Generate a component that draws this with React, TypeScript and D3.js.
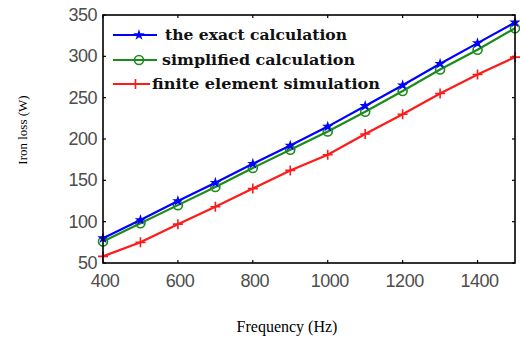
import { useRef, useEffect } from 'react';
import * as d3 from 'd3';

const freq = [400, 500, 600, 700, 800, 900, 1000, 1100, 1200, 1300, 1400, 1500];
const exact = [80, 102, 125, 147, 170, 192, 215, 240, 265, 291, 316, 341];
const simplified = [76, 98, 120, 142, 165, 187, 209, 233, 258, 284, 308, 334];
const fem = [58, 75, 97, 118, 140, 162, 181, 206, 230, 255, 278, 299];
const xTicks = [400, 600, 800, 1000, 1200, 1400];
const yTicks = [50, 100, 150, 200, 250, 300, 350];
const legendNames = ['the exact calculation', 'simplified calculation', 'finite element simulation'];

export default function App() {
  const ref = useRef<SVGSVGElement>(null);

  useEffect(() => {
    const W = 520, H = 338;
    const L = 103, R = 515, T = 15, B = 263;
    const svg = d3.select(ref.current!).attr('width', W).attr('height', H);
    svg.selectAll('*').remove();

    const x = d3.scaleLinear().domain([400, 1500]).range([L, R]);
    const y = d3.scaleLinear().domain([50, 350]).range([B, T]);

    // ticks (inward, all four sides)
    const tk = 3;
    const g = svg.append('g').attr('stroke', '#000').attr('stroke-width', 1.2);
    xTicks.forEach(t => {
      g.append('line').attr('x1', x(t)).attr('x2', x(t)).attr('y1', B).attr('y2', B - tk);
      g.append('line').attr('x1', x(t)).attr('x2', x(t)).attr('y1', T).attr('y2', T + tk);
    });
    yTicks.forEach(t => {
      g.append('line').attr('x1', L).attr('x2', L + tk).attr('y1', y(t)).attr('y2', y(t));
      g.append('line').attr('x1', R).attr('x2', R - tk).attr('y1', y(t)).attr('y2', y(t));
    });

    const lbl = svg.append('g')
      .attr('font-family', 'Liberation Sans, Arial, sans-serif')
      .attr('font-size', 18).attr('fill', '#4d4d4d');
    xTicks.forEach(t => {
      lbl.append('text').attr('x', x(t) + 2).attr('y', B + 24)
        .attr('text-anchor', 'middle').attr('letter-spacing', -0.5).text(t);
    });
    yTicks.forEach(t => {
      lbl.append('text').attr('x', L - 6).attr('y', y(t) + 6)
        .attr('text-anchor', 'end').attr('letter-spacing', -0.5).text(t);
    });

    const series = [
      { vals: exact, color: '#0000ff', mark: 'star' },
      { vals: simplified, color: '#1a8c1a', mark: 'circle' },
      { vals: fem, color: '#ff1a1a', mark: 'plus' },
    ];

    const drawMark = (sel: any, mark: string, color: string, cx: number, cy: number) => {
      if (mark === 'star') {
        sel.append('path').attr('transform', `translate(${cx},${cy})`)
          .attr('d', d3.symbol(d3.symbolStar, 40)()).attr('fill', color);
      } else if (mark === 'circle') {
        sel.append('circle').attr('cx', cx).attr('cy', cy).attr('r', 4.5)
          .attr('fill', 'none').attr('stroke', color).attr('stroke-width', 1.6);
      } else {
        sel.append('path')
          .attr('d', `M${cx - 5},${cy}H${cx + 5}M${cx},${cy - 5}V${cy + 5}`)
          .attr('stroke', color).attr('stroke-width', 1.6);
      }
    };

    const line = d3.line<number>().x((_, i) => x(freq[i])).y(d => y(d));
    // draw red first, then green, then blue on top
    [...series].reverse().forEach(s => {
      const sg = svg.append('g');
      sg.append('path').datum(s.vals).attr('fill', 'none')
        .attr('stroke', s.color).attr('stroke-width', 2.2).attr('d', line);
      s.vals.forEach((v, i) => drawMark(sg, s.mark, s.color, x(freq[i]), y(v)));
    });

    // frame
    svg.append('rect').attr('x', L).attr('y', T).attr('width', R - L).attr('height', B - T)
      .attr('fill', 'none').attr('stroke', '#000').attr('stroke-width', 1.6);

    // legend
    const lx = [[113, 157, 165], [113, 157, 162], [113, 150, 152]];
    const lw = [182, 193, 228];
    const ly = [35, 60, 84];
    series.forEach((s, i) => {
      const [a, b, tx] = lx[i];
      const lg = svg.append('g');
      lg.append('line').attr('x1', a).attr('x2', b).attr('y1', ly[i]).attr('y2', ly[i])
        .attr('stroke', s.color).attr('stroke-width', 2.2);
      drawMark(lg, s.mark, s.color, (a + b) / 2 + 4, ly[i]);
      lg.append('text').attr('x', tx).attr('y', ly[i] + 5)
        .style('font-family', '"DejaVu Serif", serif')
        .style('font-weight', 'bold').style('font-size', '15px').attr('fill', '#111')
        .attr('textLength', lw[i]).attr('lengthAdjust', 'spacingAndGlyphs')
        .text(legendNames[i]);
    });

    // axis titles
    svg.append('text').attr('x', 287).attr('y', 332)
      .attr('text-anchor', 'middle')
      .attr('font-family', 'Liberation Serif, Times New Roman, serif')
      .attr('font-size', 16).text('Frequency (Hz)');
    svg.append('text').attr('transform', 'translate(27,130) rotate(-90)')
      .attr('text-anchor', 'middle')
      .attr('font-family', 'Liberation Serif, Times New Roman, serif')
      .attr('font-size', 13).text('Iron loss (W)');
  }, []);

  return <svg ref={ref} style={{ position: 'absolute', left: 0, top: 0 }}></svg>;
}
